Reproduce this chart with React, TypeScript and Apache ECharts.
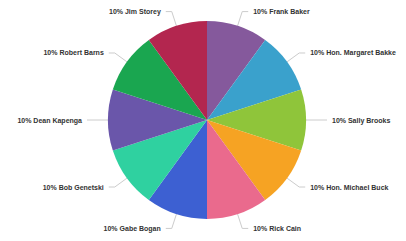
import React, { useEffect, useRef } from "react";
import * as echarts from "echarts";

const names = [
  "Frank Baker",
  "Hon. Margaret Bakke",
  "Sally Brooks",
  "Hon. Michael Buck",
  "Rick Cain",
  "Gabe Bogan",
  "Bob Genetski",
  "Dean Kapenga",
  "Robert Barns",
  "Jim Storey",
];
const values = [10, 10, 10, 10, 10, 10, 10, 10, 10, 10];
const colors = [
  "#85599c",
  "#3aa1cc",
  "#8fc53a",
  "#f6a323",
  "#ea6a8d",
  "#3d60d2",
  "#2fd1a0",
  "#6a56aa",
  "#1aa650",
  "#b3264f",
];

export default function App() {
  const ref = useRef<HTMLDivElement>(null);
  useEffect(() => {
    if (!ref.current) return;
    const chart = echarts.init(ref.current, null, { renderer: "svg" });
    chart.setOption({
      animation: false,
      color: colors,
      series: [
        {
          type: "pie",
          center: [207, 120],
          radius: 99,
          startAngle: 90,
          clockwise: true,
          avoidLabelOverlap: false,
          data: names.map((n, i) => ({ name: n, value: values[i] })),
          itemStyle: { borderWidth: 0 },
          label: {
            show: true,
            formatter: (p: any) => `${Math.round(p.percent)}% ${p.name}`,
            fontSize: 7,
            fontWeight: "bold",
            color: "#333",
            overflow: "none",
            fontFamily: "Arial, Liberation Sans, sans-serif",
          },
          labelLine: {
            show: true,
            length: 15,
            length2: 6,
            lineStyle: { color: "#ccc", width: 1 },
          },
        },
      ],
    });
    return () => chart.dispose();
  }, []);
  return (
    <div
      ref={ref}
      style={{ position: "absolute", left: 0, top: 0, width: 406, height: 241 }}
    />
  );
}
